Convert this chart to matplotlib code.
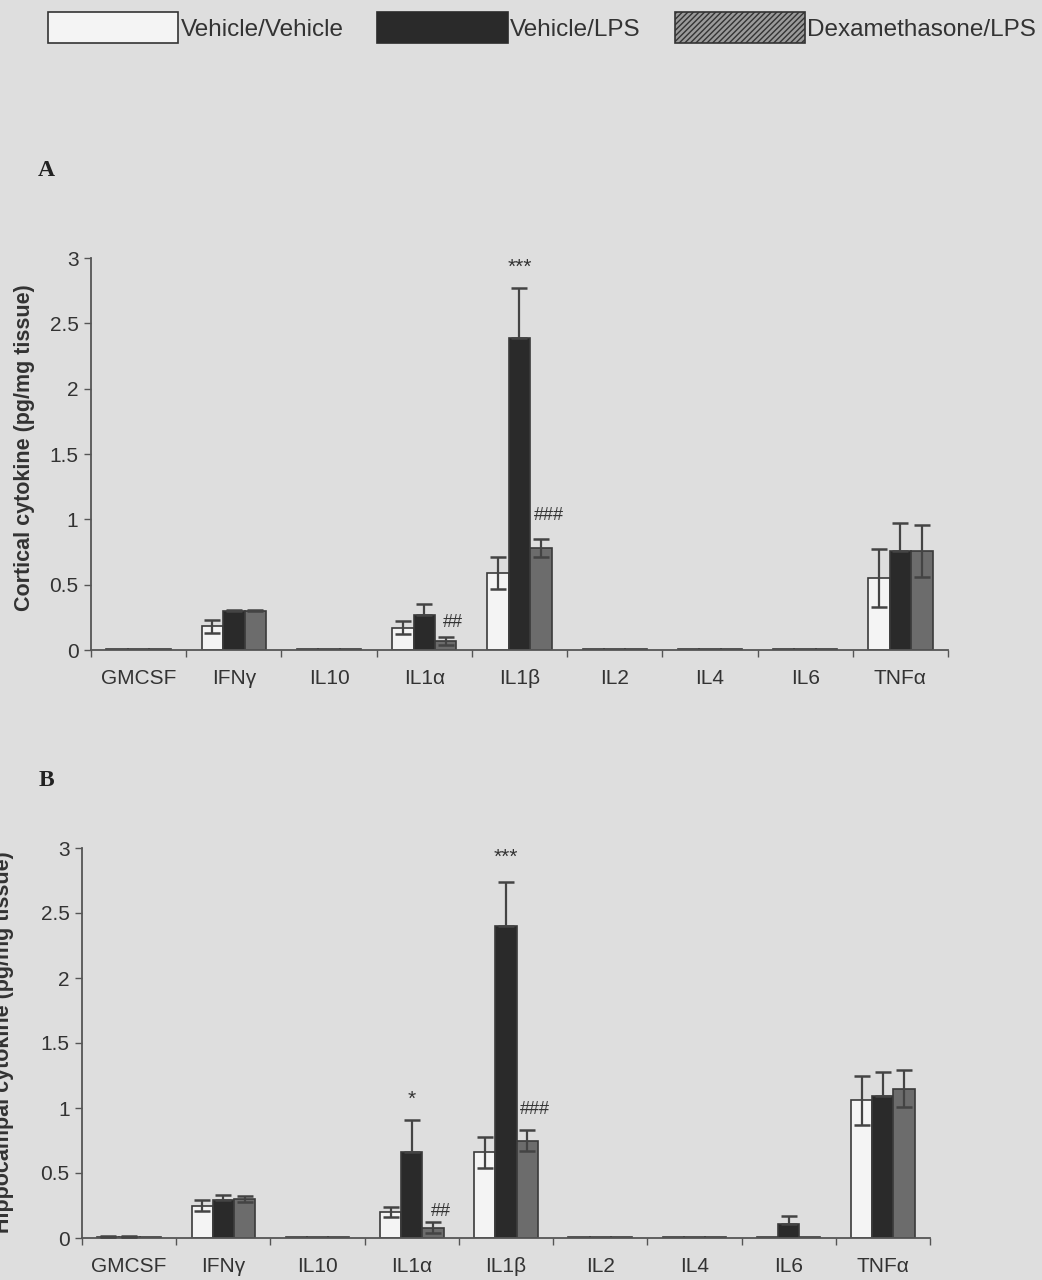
import numpy as np
import matplotlib
matplotlib.use("Agg")
import matplotlib.pyplot as plt
from matplotlib.patches import Patch

plt.rcParams['font.family'] = ['Liberation Sans', 'DejaVu Sans']

cytokines = ["GMCSF", "IFNγ", "IL10", "IL1α", "IL1β", "IL2", "IL4", "IL6", "TNFα"]
groups = ["Vehicle/Vehicle", "Vehicle/LPS", "Dexamethasone/LPS"]

# cortical (panel A)
veh_veh_ctx = [0.005, 0.18, 0.005, 0.17, 0.59, 0.005, 0.005, 0.005, 0.55]
veh_veh_ctx_err = [0, 0.05, 0, 0.05, 0.12, 0, 0, 0, 0.22]
veh_lps_ctx = [0.005, 0.30, 0.005, 0.27, 2.39, 0.005, 0.005, 0.005, 0.76]
veh_lps_ctx_err = [0, 0.005, 0, 0.08, 0.38, 0, 0, 0, 0.21]
dex_lps_ctx = [0.005, 0.30, 0.005, 0.07, 0.78, 0.005, 0.005, 0.005, 0.76]
dex_lps_ctx_err = [0, 0.005, 0, 0.03, 0.07, 0, 0, 0, 0.20]

# hippocampal (panel B)
veh_veh_hip = [0.01, 0.25, 0.005, 0.20, 0.66, 0.005, 0.005, 0.005, 1.06]
veh_veh_hip_err = [0.005, 0.04, 0, 0.04, 0.12, 0, 0, 0, 0.19]
veh_lps_hip = [0.01, 0.29, 0.005, 0.66, 2.40, 0.005, 0.005, 0.11, 1.09]
veh_lps_hip_err = [0.005, 0.04, 0, 0.25, 0.34, 0, 0, 0.06, 0.19]
dex_lps_hip = [0.005, 0.30, 0.005, 0.08, 0.75, 0.005, 0.005, 0.005, 1.15]
dex_lps_hip_err = [0, 0.02, 0, 0.04, 0.08, 0, 0, 0, 0.14]

# significance marks: (category index, group index, text, y)
marks_ctx = [(4, 1, "***", 2.93), (4, 2, "###", 1.03), (3, 2, "##", 0.21)]
marks_hip = [(4, 1, "***", 2.93), (4, 2, "###", 0.99), (3, 1, "*", 1.07), (3, 2, "##", 0.20)]

bg = '#dedede'
fills = ['#f4f4f4', '#2a2a2a', '#6c6c6c']
edge = '#3a3a3a'

fig = plt.figure(figsize=(10.42, 12.8), dpi=100)
fig.patch.set_facecolor(bg)

ax_a = fig.add_axes([91/1042, 1-650/1280, 857/1042, 392/1280])
ax_b = fig.add_axes([82/1042, 1-1238/1280, 848/1042, 390/1280])

x = np.arange(len(cytokines))
w = 0.225


def draw_panel(ax, series, errs, marks):
    ax.set_facecolor(bg)
    for i, (vals, err) in enumerate(zip(series, errs)):
        pos = x + (i - 1) * w
        ax.bar(pos, vals, w, color=fills[i], edgecolor=edge, linewidth=1.2, zorder=2)
        e = np.array(err)
        keep = e > 0
        # lower whisker of the black bars is hidden in the original
        lower = np.zeros(keep.sum()) if i == 1 else e[keep]
        ax.errorbar(pos[keep], np.array(vals)[keep], yerr=[lower, e[keep]], fmt='none',
                    ecolor='#444444', elinewidth=1.6, capsize=6, capthick=1.8, zorder=3)
    for ci, gi, txt, y in marks:
        xo = 0.08 if txt.startswith('#') else 0
        fs = 13 if txt.startswith('#') else 15
        ax.text(x[ci] + (gi - 1) * w + xo, y, txt, ha='center', va='center',
                fontsize=fs, color='#333333')
    ax.set_xlim(-0.5, len(cytokines) - 0.5)
    ax.set_ylim(0, 3)
    ax.set_yticks([0, 0.5, 1, 1.5, 2, 2.5, 3])
    ax.set_yticklabels(['0', '0.5', '1', '1.5', '2', '2.5', '3'])
    ax.set_xticks(x)
    ax.set_xticklabels(cytokines)
    ax.set_xticks(np.arange(-0.5, len(cytokines)), minor=True)
    ax.tick_params(axis='x', which='major', length=0, pad=14, labelsize=15, colors='#333333')
    ax.tick_params(axis='x', which='minor', length=5, width=1, color='#555555')
    ax.tick_params(axis='y', length=5, width=1, color='#555555', labelsize=15,
                   labelcolor='#333333', pad=4)
    for s in ['top', 'right']:
        ax.spines[s].set_visible(False)
    for s in ['left', 'bottom']:
        ax.spines[s].set_color('#555555')
        ax.spines[s].set_linewidth(1.3)


draw_panel(ax_a, [veh_veh_ctx, veh_lps_ctx, dex_lps_ctx],
           [veh_veh_ctx_err, veh_lps_ctx_err, dex_lps_ctx_err], marks_ctx)
draw_panel(ax_b, [veh_veh_hip, veh_lps_hip, dex_lps_hip],
           [veh_veh_hip_err, veh_lps_hip_err, dex_lps_hip_err], marks_hip)

fig.text(25/1042, 1-448/1280, "Cortical cytokine (pg/mg tissue)", rotation=90,
         ha='center', va='center', fontsize=15.5, fontweight='bold', color='#333333')
fig.text(4/1042, 1-1042/1280, "Hippocampal cytokine (pg/mg tissue)", rotation=90,
         ha='center', va='center', fontsize=15.5, fontweight='bold', color='#333333')

fig.text(46/1042, 1-170/1280, "A", fontsize=17, fontweight='bold', family='Liberation Serif',
         ha='center', va='center', color='#222222')
fig.text(46/1042, 1-780/1280, "B", fontsize=17, fontweight='bold', family='Liberation Serif',
         ha='center', va='center', color='#222222')

handles = [Patch(facecolor='#f4f4f4', edgecolor='#333333', linewidth=1.2),
           Patch(facecolor='#2a2a2a', edgecolor='#2a2a2a', linewidth=1.2),
           Patch(facecolor='#9a9a9a', edgecolor='#333333', hatch='//////', linewidth=1.2)]
fig.legend(handles, groups, loc='upper left', bbox_to_anchor=(48/1042, 1-12/1280), ncol=3,
           frameon=False, fontsize=17.5, handlelength=5.35, handleheight=1.6,
           handletextpad=0.1, columnspacing=1.4, labelcolor='#333333',
           borderpad=0, borderaxespad=0)

fig.savefig("out.png", dpi=100, facecolor=bg)
